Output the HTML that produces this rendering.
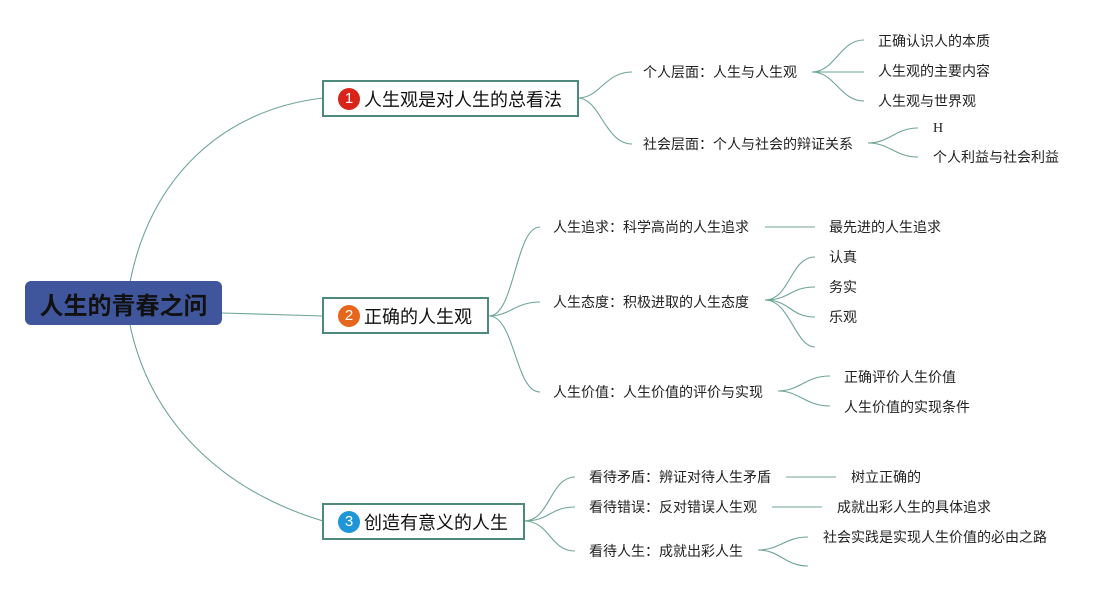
<!DOCTYPE html>
<html><head><meta charset="utf-8"><style>
html,body{margin:0;padding:0;background:#fff;}
body{width:1119px;height:591px;position:relative;overflow:hidden;font-family:"Liberation Sans","Noto Sans CJK SC",sans-serif;}
.t{position:absolute;font-size:14px;color:#222;white-space:nowrap;line-height:16px;font-family:"Noto Sans CJK SC",sans-serif;}
.box{position:absolute;border:2px solid #4e8a7c;background:#fff;box-sizing:border-box;font-size:18px;color:#111;display:flex;align-items:center;padding-left:14px;font-family:"Noto Sans CJK SC",sans-serif;}
.n{display:inline-block;width:22px;height:22px;border-radius:50%;color:#fff;font-size:15px;line-height:22px;text-align:center;margin-right:4px;font-family:"Liberation Sans",sans-serif;}
</style></head><body>
<svg width="1119" height="591" style="position:absolute;left:0;top:0" fill="none" stroke="#6fa595" stroke-width="1.1">
<path d="M130 282 C150 180 220 110 323 98"/>
<path d="M222 313 L323 316"/>
<path d="M130 325 C150 420 220 490 323 521"/>
<path d="M578 98 C600 98 605 72 632 72"/>
<path d="M578 98 C600 98 605 144 632 144"/>
<path d="M812 72 C835 72 840 40 864 40"/><path d="M812 72 L864 72"/><path d="M812 72 C835 72 840 101 864 101"/>
<path d="M868 143 C890 143 895 128 918 128"/><path d="M868 143 C890 143 895 157 918 157"/>
<path d="M489 316 C515 316 515 227 540 227"/>
<path d="M489 316 C510 316 515 302 540 302"/>
<path d="M489 316 C515 316 515 392 540 392"/>
<path d="M765 227 L815 227"/>
<path d="M765 300 C790 300 790 257 815 257"/><path d="M765 300 C790 300 790 287 815 287"/><path d="M765 300 C790 300 790 317 815 317"/><path d="M765 300 C790 300 795 347 815 347"/>
<path d="M778 391 C800 391 805 376 830 376"/><path d="M778 391 C800 391 805 406 830 406"/>
<path d="M524 521 C550 521 550 477 575 477"/><path d="M524 521 C550 521 550 507 575 507"/><path d="M524 521 C550 521 550 551 575 551"/>
<path d="M786 477 L836 477"/><path d="M772 507 L822 507"/>
<path d="M758 550 C780 550 785 537 808 537"/><path d="M758 550 C780 550 785 566 808 566"/>
</svg>
<div style="position:absolute;left:25px;top:281px;width:197px;height:44px;background:#3f569c;border-radius:6px;display:flex;align-items:center;justify-content:center;font-size:24px;font-weight:bold;color:#111;font-family:'Noto Sans CJK SC',sans-serif;">人生的青春之问</div>
<div class="box" style="left:322px;top:80px;width:257px;height:37px;"><span class="n" style="background:#d9241a">1</span>人生观是对人生的总看法</div>
<div class="box" style="left:322px;top:297px;width:167px;height:37px;"><span class="n" style="background:#e5661c">2</span>正确的人生观</div>
<div class="box" style="left:322px;top:503px;width:203px;height:37px;"><span class="n" style="background:#1e96d8">3</span>创造有意义的人生</div>
<div class="t" style="left:643px;top:64px">个人层面：人生与人生观</div>
<div class="t" style="left:643px;top:136px">社会层面：个人与社会的辩证关系</div>
<div class="t" style="left:878px;top:33px">正确认识人的本质</div>
<div class="t" style="left:878px;top:63px">人生观的主要内容</div>
<div class="t" style="left:878px;top:93px">人生观与世界观</div>
<div class="t" style="left:933px;top:121px;font-family:'Liberation Serif',serif">H</div>
<div class="t" style="left:933px;top:149px">个人利益与社会利益</div>
<div class="t" style="left:553px;top:219px">人生追求：科学高尚的人生追求</div>
<div class="t" style="left:553px;top:294px">人生态度：积极进取的人生态度</div>
<div class="t" style="left:553px;top:384px">人生价值：人生价值的评价与实现</div>
<div class="t" style="left:829px;top:219px">最先进的人生追求</div>
<div class="t" style="left:829px;top:249px">认真</div>
<div class="t" style="left:829px;top:279px">务实</div>
<div class="t" style="left:829px;top:309px">乐观</div>
<div class="t" style="left:844px;top:369px">正确评价人生价值</div>
<div class="t" style="left:844px;top:399px">人生价值的实现条件</div>
<div class="t" style="left:589px;top:469px">看待矛盾：辨证对待人生矛盾</div>
<div class="t" style="left:589px;top:499px">看待错误：反对错误人生观</div>
<div class="t" style="left:589px;top:543px">看待人生：成就出彩人生</div>
<div class="t" style="left:851px;top:469px">树立正确的</div>
<div class="t" style="left:837px;top:499px">成就出彩人生的具体追求</div>
<div class="t" style="left:823px;top:529px">社会实践是实现人生价值的必由之路</div>
</body></html>
